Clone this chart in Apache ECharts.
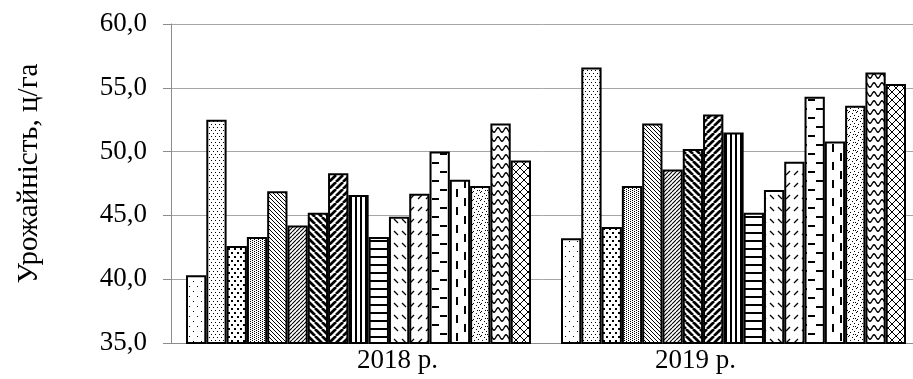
<!DOCTYPE html>
<html>
<head>
<meta charset="utf-8">
<script src="https://cdn.jsdelivr.net/npm/echarts@6/dist/echarts.min.js"></script>
<style>
  html, body { margin: 0; padding: 0; background: #fff; }
  #chart { width: 913px; height: 379px; }
</style>
</head>
<body>
<div id="chart"></div>
<script>
// категорії та врожайність по 17 варіантах
var years = ['2018 р.', '2019 р.'];
var yield2018 = [40.3, 52.5, 42.6, 43.3, 46.9, 44.2, 45.2, 48.3, 46.6, 43.3, 44.9, 46.7, 50.0, 47.8, 47.3, 52.2, 49.3];
var yield2019 = [43.2, 56.6, 44.1, 47.3, 52.2, 48.6, 50.2, 52.9, 51.5, 45.2, 47.0, 49.2, 54.3, 50.8, 53.6, 56.2, 55.3];
var yMin = 35, yMax = 60, yStep = 5;

var FONT = '"Liberation Serif", "Times New Roman", serif';

// штрихування (як у Excel)
function tile(w, h, draw) {
    var c = document.createElement('canvas');
    c.width = w; c.height = h;
    var g = c.getContext('2d');
    g.fillStyle = '#fff';
    g.fillRect(0, 0, w, h);
    g.fillStyle = '#000';
    g.strokeStyle = '#000';
    draw(g, w, h);
    return { image: c, repeat: 'repeat' };
}
function dots(pts, s) {
    return function (g) {
        pts.forEach(function (p) { g.fillRect(p[0], p[1], s, s); });
    };
}
function diag(lw, up) {
    return function (g, s) {
        g.lineWidth = lw;
        g.beginPath();
        for (var o = -s; o <= s; o += s) {
            if (up) { g.moveTo(o, s); g.lineTo(o + s, 0); }
            else { g.moveTo(o, 0); g.lineTo(o + s, s); }
        }
        g.stroke();
    };
}
function dash(up) {
    return function (g) {
        g.lineWidth = 1.3;
        g.beginPath();
        if (up) { g.moveTo(2, 7); g.lineTo(6, 3); }
        else { g.moveTo(2, 3); g.lineTo(6, 7); }
        g.stroke();
    };
}

var patterns = [
    tile(8, 10, dots([[1, 1], [5, 6]], 1)),
    tile(8, 6, dots([[1, 1], [5, 1], [3, 4], [7, 4]], 1)),
    tile(6, 8, dots([[0, 0], [3, 4]], 2)),
    tile(4, 2, dots([[0, 0], [2, 1]], 1)),
    tile(4, 4, diag(1, false)),
    tile(4, 4, diag(1.1, true)),
    tile(7, 7, diag(2.7, false)),
    tile(7, 7, diag(2.7, true)),
    tile(5, 1, function (g) { g.fillRect(0, 0, 2, 1); }),
    tile(1, 8, function (g) { g.fillRect(0, 0, 1, 2); }),
    tile(8, 12, dash(false)),
    tile(8, 12, dash(true)),
    tile(16, 18, function (g) { g.fillRect(0, 0, 7, 2); g.fillRect(8, 9, 7, 2); }),
    tile(16, 18, function (g) { g.fillRect(0, 0, 2, 8); g.fillRect(8, 9, 2, 8); }),
    tile(8, 8, dots([[0, 0], [4, 1], [6, 3], [2, 4], [5, 6], [1, 7], [7, 6]], 1)),
    tile(8, 9, function (g) {
        g.lineWidth = 1.4;
        g.beginPath();
        for (var x = -1; x <= 9; x += 0.5) {
            var y = 4 - 2.2 * Math.sin(2 * Math.PI * x / 8);
            if (x === -1) g.moveTo(x, y); else g.lineTo(x, y);
        }
        g.stroke();
    }),
    tile(8, 8, function (g, s) { diag(1, false)(g, s); diag(1, true)(g, s); })
];

var series = [];
for (var i = 0; i < yield2018.length; i++) {
    series.push({
        type: 'bar',
        name: String(i + 1),
        barGap: '0%',
        barCategoryGap: '8%',
        data: [yield2018[i], yield2019[i]],
        itemStyle: {
            color: patterns[i],
            borderColor: '#000',
            borderWidth: 2
        },
        emphasis: { disabled: true }
    });
}

var myChart = echarts.init(document.getElementById('chart'));
var option = {
    animation: false,
    backgroundColor: '#fff',
    grid: {
        left: 171,
        top: 24,
        right: -8,   // область графіка виходить за правий край кадру
        bottom: 36,
        outerBoundsMode: 'none'
    },
    xAxis: {
        type: 'category',
        data: years,
        axisTick: { show: false },
        axisLine: { lineStyle: { color: '#8c8c8c', width: 1 } },
        axisLabel: {
            margin: 4,
            color: '#000',
            fontFamily: FONT,
            fontSize: 27,
            formatter: function (v, idx) {
                return '{c' + idx + '|' + v + '}';
            },
            rich: {
                c0: { fontFamily: FONT, fontSize: 27, color: '#000', padding: [0, 0, 0, 78] },
                c1: { fontFamily: FONT, fontSize: 27, color: '#000', padding: [0, 76, 0, 0] }
            }
        }
    },
    yAxis: {
        type: 'value',
        min: yMin,
        max: yMax,
        interval: yStep,
        name: 'Урожайність, ц/га',
        nameLocation: 'middle',
        nameGap: 127,
        nameTextStyle: {
            color: '#000',
            fontFamily: FONT,
            fontSize: 29,
            padding: [0, 0, 0, 20]
        },
        axisLine: { show: true, lineStyle: { color: '#8c8c8c', width: 1 } },
        axisTick: { show: true, length: 8, lineStyle: { color: '#8c8c8c' } },
        splitLine: { lineStyle: { color: '#a6a6a6', width: 1 } },
        axisLabel: {
            margin: 24,
            color: '#000',
            fontFamily: FONT,
            fontSize: 27,
            formatter: function (v) {
                return v.toFixed(1).replace('.', ',');
            }
        }
    },
    series: series
};
myChart.setOption(option);
</script>
</body>
</html>
